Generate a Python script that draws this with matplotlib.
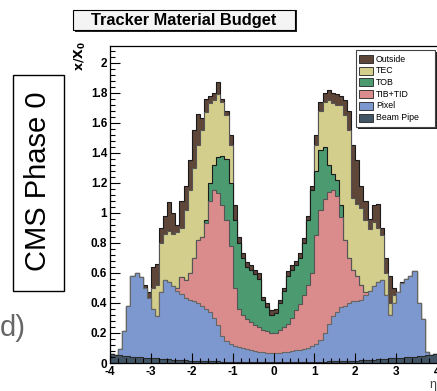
import numpy as np
import matplotlib
matplotlib.use("Agg")
import matplotlib.pyplot as plt
from matplotlib.patches import Rectangle
from matplotlib.ticker import MultipleLocator, FormatStrFormatter

plt.rcParams['font.family'] = ['Liberation Sans', 'DejaVu Sans']

# eta bins, 0.1 wide from -4 to 4
eta_edges = np.linspace(-4, 4, 81)

# stack heights (x/X0): each array is the top of the
# stack once that layer is added (beam pipe at the bottom, outside on top)
beam_pipe = np.array([
    0.058, 0.055, 0.052, 0.049, 0.046, 0.043, 0.040, 0.038, 0.036, 0.034,
    0.032, 0.030, 0.028, 0.026, 0.024, 0.022, 0.020, 0.018, 0.017, 0.016,
    0.015, 0.014, 0.013, 0.012, 0.011, 0.010, 0.010, 0.009, 0.009, 0.008,
    0.008, 0.008, 0.007, 0.007, 0.007, 0.007, 0.006, 0.006, 0.006, 0.006,
    0.006, 0.006, 0.006, 0.006, 0.007, 0.007, 0.007, 0.007, 0.008, 0.008,
    0.008, 0.009, 0.009, 0.010, 0.010, 0.011, 0.012, 0.013, 0.014, 0.015,
    0.016, 0.017, 0.018, 0.020, 0.022, 0.024, 0.026, 0.028, 0.030, 0.032,
    0.034, 0.036, 0.038, 0.040, 0.043, 0.046, 0.049, 0.052, 0.055, 0.058])

pixel = np.array([
    0.058, 0.056, 0.09, 0.21, 0.38, 0.58, 0.60, 0.57, 0.50, 0.43,
    0.36, 0.31, 0.47, 0.55, 0.54, 0.51, 0.48, 0.46, 0.43, 0.42,
    0.41, 0.40, 0.38, 0.36, 0.34, 0.30, 0.25, 0.18, 0.145, 0.125,
    0.115, 0.105, 0.097, 0.090, 0.085, 0.080, 0.076, 0.072, 0.069, 0.067,
    0.067, 0.069, 0.072, 0.076, 0.080, 0.084, 0.088, 0.093, 0.100, 0.110,
    0.125, 0.150, 0.20, 0.26, 0.31, 0.34, 0.37, 0.38, 0.40, 0.41,
    0.41, 0.42, 0.45, 0.48, 0.51, 0.54, 0.55, 0.45, 0.32, 0.40,
    0.47, 0.53, 0.56, 0.58, 0.61, 0.40, 0.29, 0.07, 0.055, 0.058])

tib_tid = pixel.copy()
tib_tid[16:40] = [0.50, 0.57, 0.55, 0.60, 0.70, 0.82, 0.84, 0.93, 1.08, 1.15,
                  1.13, 1.05, 0.95, 0.78, 0.50, 0.36, 0.32, 0.29, 0.27, 0.25,
                  0.24, 0.22, 0.21, 0.20]
tib_tid[40:63] = [0.20, 0.22, 0.24, 0.26, 0.30, 0.35, 0.39, 0.45, 0.52, 0.60,
                  0.85, 1.02, 1.09, 1.14, 1.15, 1.11, 0.97, 0.82, 0.70, 0.62,
                  0.58, 0.52, 0.47]

tob = tib_tid.copy()
tob[23:40] = [0.95, 1.20, 1.32, 1.37, 1.38, 1.36, 1.20, 0.95, 0.80, 0.70,
              0.64, 0.62, 0.59, 0.56, 0.42, 0.37, 0.32]
tob[40:57] = [0.33, 0.40, 0.48, 0.58, 0.62, 0.65, 0.70, 0.80, 0.95, 1.15,
              1.28, 1.42, 1.44, 1.32, 1.26, 1.22, 1.05]

tec = tob.copy()
tec[10:30] = [0.50, 0.52, 0.80, 0.86, 0.88, 0.86, 0.87, 0.90, 1.02, 1.15,
              1.30, 1.45, 1.55, 1.67, 1.73, 1.75, 1.79, 1.74, 1.65, 1.45]
tec[50:70] = [1.45, 1.68, 1.74, 1.75, 1.73, 1.72, 1.72, 1.65, 1.55, 1.10,
              1.06, 1.03, 0.95, 0.89, 0.94, 0.90, 0.85, 0.60, 0.40, 0.45]

outside = tec.copy()
outside[8:40] = [0.52, 0.47, 0.64, 0.66, 0.90, 0.98, 1.07, 1.00, 0.92, 1.08,
                 1.18, 1.35, 1.55, 1.66, 1.63, 1.76, 1.78, 1.80, 1.87, 1.76,
                 1.68, 1.52, 1.05, 0.84, 0.73, 0.67, 0.65, 0.62, 0.60, 0.44,
                 0.40, 0.35]
outside[40:72] = [0.36, 0.42, 0.50, 0.61, 0.65, 0.68, 0.73, 0.83, 0.98, 1.18,
                  1.52, 1.74, 1.80, 1.82, 1.80, 1.79, 1.78, 1.75, 1.68, 1.45,
                  1.35, 1.18, 1.08, 0.96, 1.05, 1.06, 0.90, 0.70, 0.58, 0.50,
                  0.47, 0.54]

labels = ["Outside", "TEC", "TOB", "TIB+TID", "Pixel", "Beam Pipe"]
stacks = [outside, tec, tob, tib_tid, pixel, beam_pipe]
colors = ["#5e4638", "#d3ce8c", "#4b9a70", "#da8b8b", "#7d98cf", "#425565"]
edges_c = ["#1a1a1a", "#555555", "#1a1a1a", "#555555", "#666666", "#2a2a2a"]

W, H = 437, 391
fig = plt.figure(figsize=(W / 100, H / 100), dpi=100)


def fx(px):
    return px / W


def fy(py):
    return 1 - py / H


ax = fig.add_axes([fx(110), fy(363), (437 - 110) / W, (363 - 46) / H])

# ROOT style: tallest cumulative first, each drawn from zero
for vals, c, ec in zip(stacks, colors, edges_c):
    ax.stairs(vals, eta_edges, fill=True, baseline=0, facecolor=c,
              edgecolor='none')
    ax.stairs(vals, eta_edges, baseline=None, color=ec, linewidth=0.8)

ax.set_xlim(-4, 4)
ax.set_ylim(0, 2.11)
ax.spines['right'].set_visible(False)
for s in ['left', 'bottom', 'top']:
    ax.spines[s].set_linewidth(0.9)
ax.xaxis.set_major_locator(MultipleLocator(1))
ax.xaxis.set_minor_locator(MultipleLocator(0.2))
ax.yaxis.set_major_locator(MultipleLocator(0.2))
ax.yaxis.set_minor_locator(MultipleLocator(0.04))
ax.xaxis.set_major_formatter(FormatStrFormatter('%g'))
ax.yaxis.set_major_formatter(FormatStrFormatter('%g'))
ax.tick_params(which='both', direction='in', top=False, right=False,
               labelsize=8.5, pad=2, width=0.8)
ax.tick_params(which='major', length=7)
ax.tick_params(which='minor', length=3.5)
for lab in ax.get_xticklabels() + ax.get_yticklabels():
    lab.set_fontweight('bold')

fig.text(fx(80), fy(56), r'$\mathbf{x/X_0}$', rotation=90, ha='center',
         va='center', fontsize=9)
fig.text(fx(433), fy(385), 'η', ha='center', va='center', fontsize=9,
         color='#444444')

# title box
fig.add_artist(Rectangle((fx(75), fy(32)), fx(222), 22 / H, transform=fig.transFigure,
                         facecolor='#222222', edgecolor='none'))
fig.add_artist(Rectangle((fx(73), fy(30)), fx(222), 20 / H, transform=fig.transFigure,
                         facecolor='#f4f4f4', edgecolor='black', linewidth=0.8))
fig.text(fx(184), fy(20), 'Tracker Material Budget', ha='center', va='center',
         fontsize=11.8, fontweight='bold')

# legend
fig.add_artist(Rectangle((fx(358), fy(129)), fx(79), 77 / H, transform=fig.transFigure,
                         facecolor='#222222', edgecolor='none'))
fig.add_artist(Rectangle((fx(356), fy(127)), fx(79), 77 / H, transform=fig.transFigure,
                         facecolor='white', edgecolor='#444444', linewidth=0.8))
for k, (lab, c) in enumerate(zip(labels, colors)):
    yc = 59 + 11.7 * k
    fig.add_artist(Rectangle((fx(359), fy(yc + 4)), fx(14), 8 / H,
                             transform=fig.transFigure, facecolor=c,
                             edgecolor='#222222', linewidth=0.6))
    fig.text(fx(376), fy(yc), lab, ha='left', va='center', fontsize=6.3)

# slide side text
fig.add_artist(Rectangle((fx(13), fy(291)), fx(51), 216 / H, transform=fig.transFigure,
                         facecolor='white', edgecolor='black', linewidth=1.0))
fig.text(fx(38.5), fy(181), 'CMS Phase 0', rotation=90, ha='center', va='center',
         fontsize=21)
fig.text(fx(26), fy(328), 'd)', ha='right', va='center', fontsize=21,
         color='#666666')

fig.savefig('out.png', dpi=100)
